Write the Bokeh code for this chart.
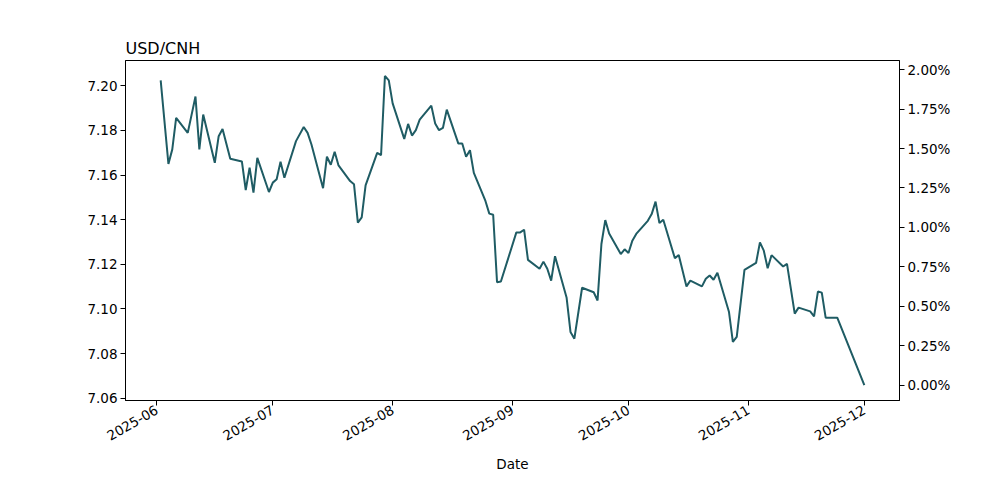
import math
from datetime import datetime
from bokeh.plotting import figure
from bokeh.models import (Range1d, LinearAxis, FixedTicker, NumeralTickFormatter,
                          DatetimeTickFormatter, ColumnDataSource)
from bokeh.embed import file_html
from bokeh.resources import INLINE

dates = [
    "2025-06-02", "2025-06-04", "2025-06-05", "2025-06-06", "2025-06-09", "2025-06-11",
    "2025-06-12", "2025-06-13", "2025-06-16", "2025-06-17", "2025-06-18", "2025-06-20",
    "2025-06-23", "2025-06-24", "2025-06-25", "2025-06-26", "2025-06-27", "2025-06-30",
    "2025-07-01", "2025-07-02", "2025-07-03", "2025-07-04", "2025-07-07", "2025-07-09",
    "2025-07-10", "2025-07-11", "2025-07-14", "2025-07-15", "2025-07-16", "2025-07-17",
    "2025-07-18", "2025-07-21", "2025-07-22", "2025-07-23", "2025-07-24", "2025-07-25",
    "2025-07-28", "2025-07-29", "2025-07-30", "2025-07-31", "2025-08-01", "2025-08-04",
    "2025-08-05", "2025-08-06", "2025-08-07", "2025-08-08", "2025-08-11", "2025-08-12",
    "2025-08-13", "2025-08-14", "2025-08-15", "2025-08-18", "2025-08-19", "2025-08-20",
    "2025-08-21", "2025-08-22", "2025-08-25", "2025-08-26", "2025-08-27", "2025-08-28",
    "2025-08-29", "2025-09-02", "2025-09-03", "2025-09-04", "2025-09-05", "2025-09-08",
    "2025-09-09", "2025-09-10", "2025-09-11", "2025-09-12", "2025-09-15", "2025-09-16",
    "2025-09-17", "2025-09-19", "2025-09-22", "2025-09-23", "2025-09-24", "2025-09-25",
    "2025-09-26", "2025-09-29", "2025-09-30", "2025-10-01", "2025-10-02", "2025-10-03",
    "2025-10-06", "2025-10-07", "2025-10-08", "2025-10-09", "2025-10-10", "2025-10-13",
    "2025-10-14", "2025-10-16", "2025-10-17", "2025-10-20", "2025-10-21", "2025-10-22",
    "2025-10-23", "2025-10-24", "2025-10-27", "2025-10-28", "2025-10-29", "2025-10-31",
    "2025-11-03", "2025-11-04", "2025-11-05", "2025-11-06", "2025-11-07", "2025-11-10",
    "2025-11-11", "2025-11-13", "2025-11-14", "2025-11-17", "2025-11-18", "2025-11-19",
    "2025-11-20", "2025-11-21", "2025-11-24", "2025-12-01",
]
usdcnh = [
    7.2024, 7.1650, 7.1715, 7.1856, 7.1789, 7.1952,
    7.1715, 7.1871, 7.1655, 7.1774, 7.1806, 7.1673,
    7.1661, 7.1533, 7.1633, 7.1521, 7.1677, 7.1524,
    7.1566, 7.1581, 7.1660, 7.1588, 7.1752, 7.1815,
    7.1789, 7.1737, 7.1541, 7.1682, 7.1646, 7.1704,
    7.1643, 7.1573, 7.1559, 7.1387, 7.1410, 7.1554,
    7.1699, 7.1689, 7.2044, 7.2024, 7.1921, 7.1762,
    7.1829, 7.1777, 7.1801, 7.1848, 7.1911, 7.1831,
    7.1801, 7.1811, 7.1893, 7.1741, 7.1741, 7.1682,
    7.1711, 7.1610, 7.1484, 7.1427, 7.1422, 7.1120,
    7.1123, 7.1343, 7.1343, 7.1355, 7.1220, 7.1180,
    7.1212, 7.1180, 7.1127, 7.1236, 7.1050, 7.0897,
    7.0867, 7.1095, 7.1075, 7.1038, 7.1291, 7.1398,
    7.1338, 7.1246, 7.1267, 7.1251, 7.1306, 7.1336,
    7.1395, 7.1425, 7.1481, 7.1385, 7.1400, 7.1227,
    7.1242, 7.1101, 7.1127, 7.1101, 7.1135, 7.1150,
    7.1131, 7.1162, 7.0986, 7.0852, 7.0875, 7.1175,
    7.1206, 7.1298, 7.1261, 7.1182, 7.1241, 7.1190,
    7.1202, 7.0979, 7.1006, 7.0989, 7.0967, 7.1078,
    7.1073, 7.0961, 7.0961, 7.0659,
]
month_ticks = ["2025-06-01", "2025-07-01", "2025-08-01", "2025-09-01",
               "2025-10-01", "2025-11-01", "2025-12-01"]
left_ticks = [7.06, 7.08, 7.10, 7.12, 7.14, 7.16, 7.18, 7.20]
pct_ticks = [0.0, 0.0025, 0.005, 0.0075, 0.01, 0.0125, 0.015, 0.0175, 0.02]

FONT = "DejaVu Sans"
LINE_COLOR = "#1f5c64"


def to_ms(s):
    return datetime.strptime(s, "%Y-%m-%d").timestamp() * 1000.0


xs = [datetime.strptime(d, "%Y-%m-%d") for d in dates]
x_ms = [to_ms(d) for d in dates]
xspan = x_ms[-1] - x_ms[0]
ymin, ymax = min(usdcnh), max(usdcnh)
yspan = ymax - ymin
y0, y1 = ymin - 0.05 * yspan, ymax + 0.05 * yspan
last = usdcnh[-1]

p = figure(width=992, height=492, output_backend="svg", toolbar_location=None,
           x_axis_type="datetime",
           x_range=Range1d(x_ms[0] - 0.05 * xspan, x_ms[-1] + 0.05 * xspan),
           y_range=Range1d(y0, y1),
           min_border_left=125, min_border_right=93, min_border_top=60,
           min_border_bottom=92, title="USD/CNH")
p.extra_y_ranges = {"pct": Range1d(y0 / last - 1, y1 / last - 1)}

src = ColumnDataSource(dict(x=xs, y=usdcnh))
p.line("x", "y", source=src, line_color=LINE_COLOR, line_width=2)

p.grid.visible = False
p.outline_line_color = "black"
p.outline_line_width = 1
p.background_fill_color = "white"
p.border_fill_color = "white"

p.title.text_font = FONT
p.title.text_font_size = "16px"
p.title.text_font_style = "normal"
p.title.text_color = "black"
p.title.align = "left"
p.title.offset = 0
p.title.standoff = 5

xa = p.xaxis[0]
xa.ticker = FixedTicker(ticks=[to_ms(t) for t in month_ticks])
xa.formatter = DatetimeTickFormatter(days="%Y-%m", months="%Y-%m", years="%Y-%m")
xa.major_label_orientation = math.pi / 6
xa.axis_label = "Date"

ya = p.yaxis[0]
ya.ticker = FixedTicker(ticks=left_ticks)
ya.formatter = NumeralTickFormatter(format="0.00")

ra = LinearAxis(y_range_name="pct", ticker=FixedTicker(ticks=pct_ticks),
                formatter=NumeralTickFormatter(format="0.00%"))
p.add_layout(ra, "right")

for ax in [xa, ya, ra]:
    ax.major_label_text_font = FONT
    ax.major_label_text_font_size = "13.5px"
    ax.major_label_text_color = "black"
    ax.axis_label_text_font = FONT
    ax.axis_label_text_font_size = "13.5px"
    ax.axis_label_text_font_style = "normal"
    ax.axis_label_text_color = "black"
    ax.axis_line_color = "black"
    ax.major_tick_line_color = "black"
    ax.major_tick_out = 5
    ax.major_tick_in = 0
    ax.minor_tick_line_color = None
    ax.major_label_standoff = 3

xa.axis_label_standoff = 8

open("out.html", "w").write(file_html(p, INLINE))
